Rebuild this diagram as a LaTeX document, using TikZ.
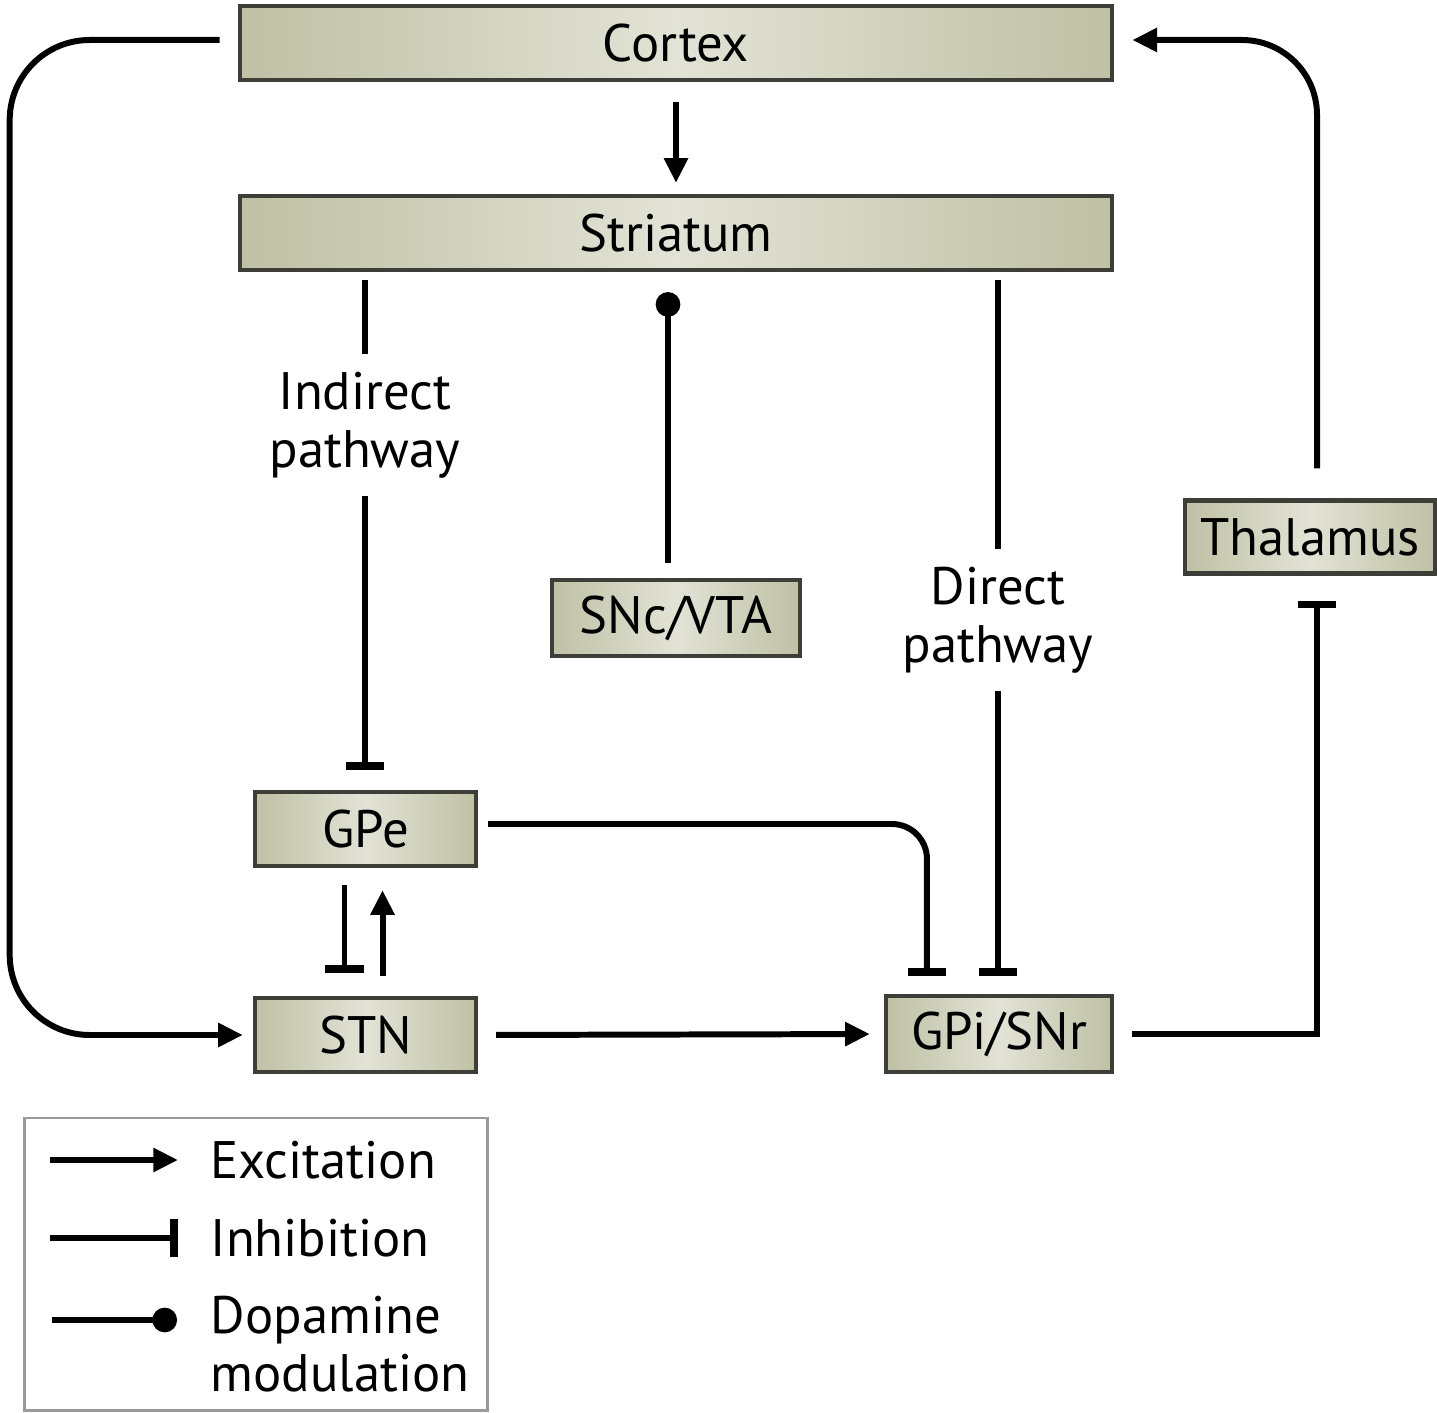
\documentclass[tikz,border=0pt]{standalone}
\usepackage{fontspec}
\setmainfont{PT Sans}
\usetikzlibrary{arrows.meta,calc}
\definecolor{boxedge}{HTML}{BFC0A4}
\definecolor{boxmid}{HTML}{E2E3D6}
\definecolor{boxline}{HTML}{3E3E38}
\definecolor{legline}{HTML}{9A9A9A}
\begin{document}
\begin{tikzpicture}[x=0.01cm,y=-0.01cm,
  txt/.style={font=\fontsize{15}{16.5}\selectfont},
  region/.style={draw=boxline, line width=1.2pt, left color=boxedge, right color=boxedge, middle color=boxmid, minimum height=0.74cm, inner sep=0pt, txt},
  conn/.style={line width=1.7pt},
  exc/.style={conn, -{Triangle[length=7pt,width=6.5pt]}},
  inh/.style={conn, -{Bar[width=11pt,line width=2.2pt]}},
  dop/.style={conn, -{Circle[length=7pt]}},
  lab/.style={txt, align=center, inner sep=5pt}
]
\useasboundingbox (0,0) rectangle (1437,1413);
\fill[white] (0,0) rectangle (1437,1413);

% regions
\node[region, minimum width=8.72cm] (Cortex) at (676,43) {Cortex};
\node[region, minimum width=8.72cm] (Striatum) at (676,233) {Striatum};
\node[region, minimum width=2.50cm, minimum height=0.73cm] (Thalamus) at (1310,537) {Thalamus};
\node[region, minimum width=2.48cm, minimum height=0.76cm] (SNc) at (676,618) {SNc/VTA};
\node[region, minimum width=2.21cm] (GPe) at (365.5,829) {GPe};
\node[region, minimum width=2.21cm] (STN) at (365.5,1035) {STN};
\node[region, minimum width=2.26cm, minimum height=0.76cm] (GPi) at (999,1034) {GPi/SNr};

% pathway labels
\node[lab] (ilab) at (365,425) {Indirect\\pathway};
\node[lab] (dlab) at (998,620) {Direct\\pathway};

% connectors
\draw[exc, shorten <=0.2cm, shorten >=0.11cm] (Cortex.south) -- (Striatum.north);

\draw[conn, shorten <=0.08cm] (Striatum.south -| ilab) -- (ilab.north);
\draw[inh, shorten >=0.2cm] (ilab.south) -- (GPe.north -| ilab);

\draw[conn, shorten <=0.08cm] (Striatum.south -| dlab) -- (dlab.north);
\draw[inh, shorten >=0.18cm] (dlab.south) -- (GPi.north -| dlab);

\draw[dop, shorten <=0.15cm, shorten >=0.2cm] ([xshift=-0.08cm]SNc.north) -- ([xshift=-0.08cm]Striatum.south);

\draw[inh, shorten <=0.17cm, shorten >=0.23cm] ([xshift=-0.21cm]GPe.south) -- ([xshift=-0.21cm]STN.north);
\draw[exc, shorten <=0.2cm, shorten >=0.22cm] ([xshift=0.17cm]STN.north) -- ([xshift=0.17cm]GPe.south);

\draw[exc, shorten <=0.18cm, shorten >=0.14cm] (STN.east) -- (GPi.west);

\draw[inh, rounded corners=0.35cm, shorten <=0.1cm, shorten >=0.18cm] ([yshift=0.05cm]GPe.east) -| ([xshift=-0.72cm]GPi.north);

\draw[inh, shorten <=0.18cm, shorten >=0.25cm] (GPi.east) -| ([xshift=0.07cm]Thalamus.south);

\draw[exc, rounded corners=0.75cm, shorten <=0.3cm, shorten >=0.18cm] ([xshift=0.07cm]Thalamus.north) |- ([yshift=0.03cm]Cortex.east);

\draw[exc, rounded corners=0.8cm, shorten <=0.18cm, shorten >=0.1cm] ([yshift=0.03cm]Cortex.west) -| ([xshift=-2.43cm]STN.west) -- (STN.west);

% legend
\node[draw=legline, line width=0.8pt, minimum width=4.62cm, minimum height=2.92cm, inner sep=0pt] (legend) at (256,1264) {};
\coordinate (e1) at (50,1160); \coordinate (e2) at (178,1160);
\coordinate (i1) at (50,1238); \coordinate (i2) at (178,1238);
\coordinate (d1) at (52,1320); \coordinate (d2) at (177,1320);
\draw[exc] (e1) -- (e2);
\draw[inh] (i1) -- (i2);
\draw[dop] (d1) -- (d2);
\node[txt, anchor=west, inner sep=0pt] (lexc) at (210,1160) {Excitation};
\node[txt, anchor=west, inner sep=0pt] (linh) at (210,1238) {Inhibition};
\node[txt, anchor=west, align=left, inner sep=0pt] (ldop) at (210,1344) {Dopamine\\modulation};
\end{tikzpicture}
\end{document}
